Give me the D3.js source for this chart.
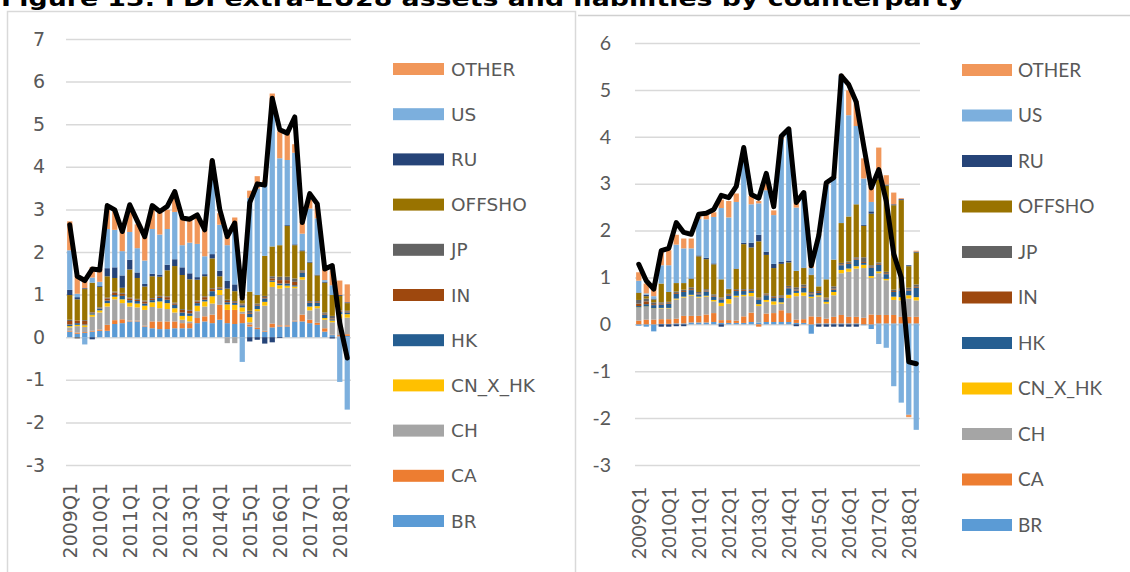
<!DOCTYPE html>
<html><head><meta charset="utf-8">
<script src="https://cdn.jsdelivr.net/npm/d3@7"></script>
<style>body{margin:0;background:#fff;} svg{display:block;}</style>
</head><body><svg id="c" width="1130" height="572"></svg>
<script>
const quarters = ["2009Q1","2009Q2","2009Q3","2009Q4","2010Q1","2010Q2","2010Q3","2010Q4","2011Q1","2011Q2","2011Q3","2011Q4","2012Q1","2012Q2","2012Q3","2012Q4","2013Q1","2013Q2","2013Q3","2013Q4","2014Q1","2014Q2","2014Q3","2014Q4","2015Q1","2015Q2","2015Q3","2015Q4","2016Q1","2016Q2","2016Q3","2016Q4","2017Q1","2017Q2","2017Q3","2017Q4","2018Q1","2018Q2"];
const xTickLabels = ["2009Q1","2010Q1","2011Q1","2012Q1","2013Q1","2014Q1","2015Q1","2016Q1","2017Q1","2018Q1"];
const seriesNames = ["BR","CA","CH","CN_X_HK","HK","IN","JP","OFFSHO","RU","US","OTHER"];
const seriesColors = ["#5B9BD5","#ED7D31","#A5A5A5","#FFC000","#255E91","#9E480E","#636363","#997300","#264478","#7CAFDD","#F1975A"];
const titleText = "Figure 13: FDI extra-EU28 assets and liabilities by counterparty";
const leftYTicks = [-3,-2,-1,0,1,2,3,4,5,6,7];
const rightYTicks = [-3,-2,-1,0,1,2,3,4,5,6];

// Left panel (assets)
const aBR  = [.13,.08,.1,.13,.15,.15,.31,.33,.37,.37,.25,.21,.19,.19,.21,.21,.21,.33,.37,.33,.41,.33,.31,.33,.25,.19,.13,.23,.25,.25,.37,.37,.33,.29,.13,.05,.02,.03];
const aCA  = [.02,.03,.02,.02,.03,.14,.09,.09,.02,.02,.02,.16,.18,.18,.16,.12,.12,.12,.12,.2,.35,.31,.33,.22,.05,.03,.02,.09,.03,.03,.02,.16,.08,.05,.08,.01,.03,.04];
const aCH  = [.08,.15,.12,.33,.4,.43,.49,.38,.33,.31,.37,.34,.31,.29,.21,.08,.04,.16,.23,.26,.23,-.14,-.14,.05,.05,.39,.59,.86,.86,.88,.76,.82,.22,.34,.2,.29,.39,.39];
const aCN  = [.03,.03,.04,.05,.05,.08,.06,.09,.09,.09,.1,.11,.16,.14,.1,.09,.13,.13,.12,.17,.12,.13,.12,.1,.12,.05,.09,.12,.08,.05,.04,.06,.09,.05,.04,.04,.1,.08];
const aHK  = [.04,.04,.02,.03,.04,.06,.04,.08,.06,.06,.05,.05,.08,.08,.08,.08,.06,.06,.04,.12,.02,.05,.05,.05,.08,.08,.08,.03,.04,.05,.03,.11,.09,.08,.08,.03,.05,.04];
const aIN  = [.08,.06,.08,.02,.01,.05,.06,.05,.04,.03,.05,.03,.03,.06,.03,.06,.06,.04,.06,.05,.02,.03,.02,.02,.02,.02,.03,.05,.08,.08,.08,.02,.02,.02,.02,.02,.02,.02];
const aJP  = [.03,-.03,.02,.01,.02,.02,.02,.02,.02,.02,.02,.02,.02,.02,.02,.02,.02,.02,.02,.02,.02,.03,.02,.02,.05,.03,.03,.05,.08,.08,.08,.03,.02,.02,.03,.06,.02,.02];
const aOFF = [.58,.5,.73,.69,.48,.5,.32,.12,.66,.49,.33,.51,.45,.61,.86,.8,.72,.49,.47,.7,.26,.26,.23,.08,.45,.2,.94,.7,.74,1.19,.78,.45,.9,.6,.7,.49,.34,.18];
const aRU  = [.12,.05,.02,-.05,.02,.19,.25,.29,.23,.13,.06,.06,.05,.13,.16,.18,.14,.06,.05,.1,.13,.18,.16,.02,-.1,-.06,-.15,-.12,-.02,.02,.02,.02,.02,.02,.02,-.03,.02,.02];
const aUS  = [.93,.08,-.17,.12,.1,.92,.88,.57,.65,.57,.55,1.05,.94,.84,1.11,.52,.72,.78,.42,1.95,1.08,.84,1.37,-.58,2.2,2.5,1.72,3.12,2.04,1.53,2.15,.39,1.25,1.32,.04,.23,-1.05,-1.7];
const aOTH = [.68,.43,.2,.25,.3,.47,.45,.47,.59,.56,.55,.5,.51,.45,.45,.63,.55,.63,.63,.25,.27,.21,.2,.06,.17,.29,.05,.47,.63,.67,.2,.29,.2,.3,.27,.35,.34,.42];
const aTotal = [2.64,1.43,1.33,1.6,1.58,3.09,2.99,2.48,3.11,2.73,2.36,3.09,2.95,3.07,3.42,2.8,2.77,2.87,2.52,4.15,3.0,2.36,2.68,0.92,3.16,3.6,3.57,5.61,4.87,4.79,5.17,2.69,3.37,3.13,1.6,1.68,0.33,-0.49];

// Right panel (liabilities)
const lBR  = [-.03,-.05,-.15,.01,.01,.02,.02,.04,.04,.04,.05,.03,.03,.03,.03,.05,.04,.05,.05,.05,.05,.03,.03,-.2,.02,.02,.02,.02,.02,.02,-.02,-.1,.02,.02,.02,.02,.02,.02];
const lCA  = [.08,.1,.1,.1,.1,.1,.16,.14,.14,.17,.19,.06,.06,.05,.14,.2,-.05,.18,.19,.25,.19,.07,.08,.17,.14,.1,.14,.18,.14,.14,.14,.21,.18,.18,.18,.14,.14,.14];
const lCH  = [.27,.27,.23,.23,.23,.41,.39,.43,.39,.38,.25,.3,.35,.5,.43,.35,.35,.25,.18,.14,.32,.5,.5,.39,.43,.32,.46,.89,.96,1.03,1.06,.78,.89,.74,.32,.35,.39,.35];
const lCN  = [.01,.01,.01,.01,.01,.02,.02,.02,.02,.02,.03,.07,.1,.03,.03,.07,.04,.04,.07,.03,.07,.07,.07,.03,.03,.04,.07,.07,.07,.05,.07,.04,.04,.03,.07,.07,.07,.07];
const lHK  = [.03,.05,.07,.07,.09,.1,.1,.1,.05,.09,.07,.07,.07,.1,.08,.04,.1,.1,.07,.1,.14,.05,.1,.05,.05,.05,.05,.1,.1,.14,.04,.18,.14,.1,.1,.14,.1,.2];
const lIN  = [.05,.06,.02,.02,.02,.02,.02,.02,.02,.02,.02,.02,.02,.02,.02,.02,.02,.02,.02,.02,.02,.02,.02,.02,.02,.02,.02,.02,.02,.02,.02,.02,.02,.02,.02,.02,.02,.02];
const lJP  = [.08,.06,.04,.03,.02,.03,.03,.04,.03,.03,.03,.02,.02,.02,.02,.02,.02,.02,.02,.03,.03,.05,.05,.03,.02,.02,.05,.03,.03,.03,.1,.03,.03,.03,.03,.03,.04,.05];
const lOFF = [.15,.05,.06,.4,.21,.18,.14,.18,.76,.64,.64,.39,.1,.43,.96,.89,1.2,.82,.6,.67,.5,.35,.35,.36,.1,.39,.57,.85,.96,1.13,.67,1.1,1.77,1.84,1.8,1.88,.46,.68];
const lRU  = [.01,.03,.02,-.05,-.05,-.04,-.04,.01,.02,.03,.02,-.05,.01,.01,.03,.1,.14,.07,.09,.04,.04,-.04,.01,.01,-.05,-.05,-.05,-.05,-.05,-.05,.02,.05,.02,.02,.02,.02,.02,.02];
const lUS  = [.25,.03,.05,.39,.57,.82,.74,.64,.78,.82,.99,1.52,1.52,1.42,1.84,.82,.67,1.31,1.04,2.62,2.8,1.35,1.6,.14,1.1,2.02,1.74,3.15,2.16,1.67,.99,.2,-.42,-.5,-1.32,-1.67,-1.93,-2.25];
const lOTH = [.18,.21,.18,.28,.32,.21,.21,.21,.1,.1,.1,.18,.35,.18,.1,.18,.05,.15,.1,.05,.02,.1,.02,.07,.02,.02,.02,.02,.53,.53,.43,.43,.66,.2,.25,.02,-.05,.02];
const lTotal = [1.28,.93,.75,1.57,1.62,2.17,1.96,1.92,2.35,2.37,2.45,2.75,2.7,2.94,3.77,2.77,2.69,3.22,2.51,4.01,4.17,2.6,2.81,1.25,1.89,3.02,3.13,5.3,5.11,4.74,3.8,2.91,3.3,2.63,1.5,1.0,-0.8,-0.84];

const svg = d3.select("#c");
const TXT = "#595959";

// title (cut at top as in the source)
svg.append("text").attr("x",1).attr("y",6)
  .attr("font-family","DejaVu Sans").attr("font-weight","bold").attr("font-size",21)
  .attr("textLength",964).attr("lengthAdjust","spacingAndGlyphs")
  .attr("fill","#000").text(titleText);

// panel frames
svg.append("rect").attr("x",7.5).attr("y",11.5).attr("width",568).attr("height",600)
  .attr("fill","none").attr("stroke","#D9D9D9").attr("stroke-width",1.5);
svg.append("line").attr("x1",578).attr("x2",1130).attr("y1",15.5).attr("y2",15.5)
  .attr("stroke","#D0D0D0").attr("stroke-width",1.5);

function drawPanel(o){
  const g = svg.append("g");
  const rows = quarters.map((q,i)=>{
    const r = {q};
    seriesNames.forEach((s,k)=>{ r[s] = o.series[k][i]; });
    return r;
  });
  const x = d3.scaleBand().domain(quarters).range([o.x0,o.x1]).paddingInner(0.3).paddingOuter(0.15);
  const y = d3.scaleLinear().domain([o.yTicks[0], o.yTicks[o.yTicks.length-1]]).range([o.yBot,o.yTop]);

  // grid + y labels
  const ya = g.append("g").attr("transform",`translate(${o.x0},0)`)
    .call(d3.axisLeft(y).tickValues(o.yTicks).tickSizeInner(-(o.x1-o.x0)).tickSizeOuter(0).tickPadding(o.tickPad).tickFormat(d=>String(d)));
  ya.select(".domain").remove();
  ya.selectAll(".tick line").attr("stroke","#D9D9D9").attr("stroke-width",1.5);
  ya.selectAll(".tick text").attr("fill",TXT).attr("font-size",o.fs).attr("font-family",o.font);

  // stacked bars
  const stack = d3.stack().keys(seriesNames).offset(d3.stackOffsetDiverging)(rows);
  g.selectAll("g.layer").data(stack).join("g").attr("class","layer")
    .attr("fill",(d,i)=>seriesColors[i])
    .selectAll("rect").data(d=>d).join("rect")
    .attr("x",d=>x(d.data.q)).attr("width",x.bandwidth())
    .attr("y",d=>y(Math.max(d[0],d[1])))
    .attr("height",d=>Math.abs(y(d[0])-y(d[1])));

  // total line
  g.append("path").datum(o.total)
    .attr("fill","none").attr("stroke","#000").attr("stroke-width",5)
    .attr("stroke-linejoin","round").attr("stroke-linecap","round")
    .attr("d",d3.line().x((d,i)=>x(quarters[i])+x.bandwidth()/2).y(d=>y(d)));

  // x labels
  const xa = g.append("g").attr("transform",`translate(0,${o.labelEndY})`)
    .call(d3.axisBottom(x).tickValues(xTickLabels).tickSize(0));
  xa.select(".domain").remove();
  xa.selectAll(".tick text").attr("transform","rotate(-90)")
    .attr("x",0).attr("y",0).attr("dy","0.36em").attr("text-anchor","end")
    .attr("fill",TXT).attr("font-size",o.fs).attr("font-family",o.font);

  // legend
  const legendOrder = seriesNames.map((s,i)=>i).reverse();
  const lg = g.append("g");
  legendOrder.forEach((k,j)=>{
    const cy = o.legY0 + j*o.legStep;
    lg.append("rect").attr("x",o.swX).attr("y",cy-o.swH/2).attr("width",o.swW).attr("height",o.swH).attr("fill",seriesColors[k]);
    lg.append("text").attr("x",o.legTX).attr("y",cy).attr("dy","0.36em")
      .attr("fill",TXT).attr("font-size",o.fs-0.5).attr("font-family",o.font).text(seriesNames[k]);
  });
}

drawPanel({
  series:[aBR,aCA,aCH,aCN,aHK,aIN,aJP,aOFF,aRU,aUS,aOTH], total:aTotal,
  x0:66, x1:351, yTop:39, yBot:465, yTicks:leftYTicks, tickPad:21,
  font:"DejaVu Sans", fs:19, labelEndY:483,
  swX:393, swW:51, swH:12, legTX:451, legY0:69, legStep:45.2
});
drawPanel({
  series:[lBR,lCA,lCH,lCN,lHK,lIN,lJP,lOFF,lRU,lUS,lOTH], total:lTotal,
  x0:635, x1:920, yTop:43, yBot:465, yTicks:rightYTicks, tickPad:24,
  font:"Lato", fs:19.5, labelEndY:487,
  swX:962, swW:50, swH:12, legTX:1018, legY0:70, legStep:45.5
});
</script></body></html>
